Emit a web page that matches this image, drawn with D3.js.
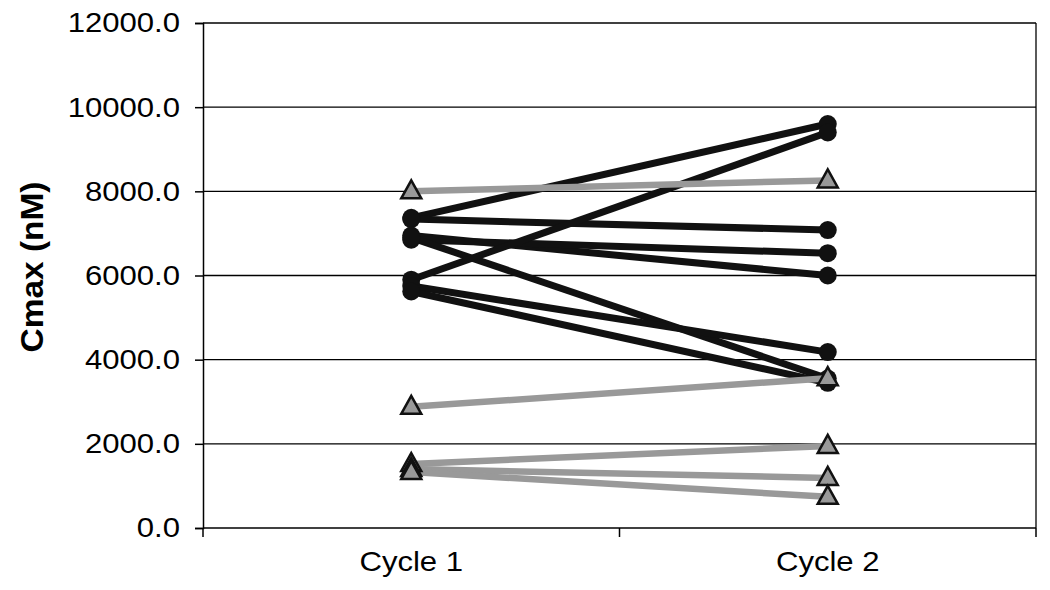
<!DOCTYPE html>
<html><head><meta charset="utf-8">
<script src="https://cdn.jsdelivr.net/npm/d3@7"></script>
<style>body{margin:0;background:#fff}svg{display:block}text{font-family:"Liberation Sans",Arial,sans-serif}</style>
</head><body>
<svg id="c" width="1050" height="590"></svg>
<script>
const categories = ["Cycle 1", "Cycle 2"];
const yTicks = [0, 2000, 4000, 6000, 8000, 10000, 12000];
const blackCycle1 = [7370, 7340, 6950, 6850, 6900, 5900, 5750, 5620];
const blackCycle2 = [9600, 7080, 6000, 6530, 3550, 9400, 4180, 3450];
const grayCycle1 = [8000, 2880, 1520, 1400, 1330];
const grayCycle2 = [8260, 3560, 1950, 1190, 740];
const yTitle = "Cmax (nM)";

const svg = d3.select("#c");
const L = 203, R = 1036, T = 23, B = 528;
const x = d3.scaleBand().domain(categories).range([L, R]).padding(0);
const y = d3.scaleLinear().domain([0, 12000]).range([B, T]);
const cx = c => x(c) + x.bandwidth() / 2;
const stretch = function() {
  const w = this.getComputedTextLength();
  d3.select(this).attr("textLength", w * 1.11).attr("lengthAdjust", "spacingAndGlyphs");
};

// gridlines
svg.append("g").selectAll("line").data(yTicks.filter(d => d > 0)).join("line")
  .attr("x1", L).attr("x2", R).attr("y1", d => y(d)).attr("y2", d => y(d))
  .attr("stroke", "#000").attr("stroke-width", 1.3);
// right border
svg.append("line").attr("x1", R).attr("x2", R).attr("y1", T).attr("y2", B)
  .attr("stroke", "#000").attr("stroke-width", 1.3);

// y axis
const ya = svg.append("g").attr("transform", `translate(${L},0)`)
  .call(d3.axisLeft(y).tickValues(yTicks).tickFormat(d3.format(".1f")).tickSize(8).tickPadding(15));
ya.select(".domain").attr("stroke", "#000").attr("stroke-width", 1.5);
ya.selectAll(".tick line").attr("stroke", "#000").attr("stroke-width", 1.5);
ya.selectAll(".tick text").attr("font-size", 28).attr("fill", "#000")
  .attr("font-family", "Liberation Sans, Arial, sans-serif").each(stretch);

// x axis
const xa = svg.append("g").attr("transform", `translate(0,${B})`)
  .call(d3.axisBottom(x).tickSize(0).tickPadding(23));
xa.select(".domain").remove();
xa.selectAll(".tick text").attr("font-size", 28).attr("fill", "#000")
  .attr("font-family", "Liberation Sans, Arial, sans-serif").each(stretch);
svg.append("line").attr("x1", L).attr("x2", R).attr("y1", B).attr("y2", B)
  .attr("stroke", "#000").attr("stroke-width", 1.5);
const edges = [L].concat(categories.map(c => x(c) + x.bandwidth()));
svg.append("g").selectAll("line").data(edges).join("line")
  .attr("x1", d => d).attr("x2", d => d).attr("y1", B).attr("y2", B + 9)
  .attr("stroke", "#000").attr("stroke-width", 1.5);

// y title
svg.append("text").attr("transform", `translate(43,267) rotate(-90)`)
  .attr("text-anchor", "middle").attr("font-size", 32).attr("font-weight", "bold")
  .attr("textLength", 171).attr("lengthAdjust", "spacingAndGlyphs")
  .text(yTitle);

const x1 = cx(categories[0]), x2 = cx(categories[1]);
const blackPairs = blackCycle1.map((v, i) => [v, blackCycle2[i]]);
const grayPairs = grayCycle1.map((v, i) => [v, grayCycle2[i]]);

svg.append("g").selectAll("line").data(blackPairs).join("line")
  .attr("x1", x1).attr("x2", x2).attr("y1", d => y(d[0])).attr("y2", d => y(d[1]))
  .attr("stroke", "#111").attr("stroke-width", 7);
const circ = blackPairs.flatMap(d => [[x1, d[0]], [x2, d[1]]]);
svg.append("g").selectAll("circle").data(circ).join("circle")
  .attr("cx", d => d[0]).attr("cy", d => y(d[1])).attr("r", 9).attr("fill", "#111");

svg.append("g").selectAll("line").data(grayPairs).join("line")
  .attr("x1", x1).attr("x2", x2).attr("y1", d => y(d[0])).attr("y2", d => y(d[1]))
  .attr("stroke", "#999").attr("stroke-width", 6.5);
const tri = grayPairs.flatMap(d => [[x1, d[0]], [x2, d[1]]]);
const triPath = "M0,-11 L10,7 L-10,7 Z";
svg.append("g").selectAll("path").data(tri).join("path")
  .attr("transform", d => `translate(${d[0]},${y(d[1])})`).attr("d", triPath)
  .attr("fill", "#999").attr("stroke", "#111").attr("stroke-width", 2.5).attr("stroke-linejoin", "miter");
</script>
</body></html>
